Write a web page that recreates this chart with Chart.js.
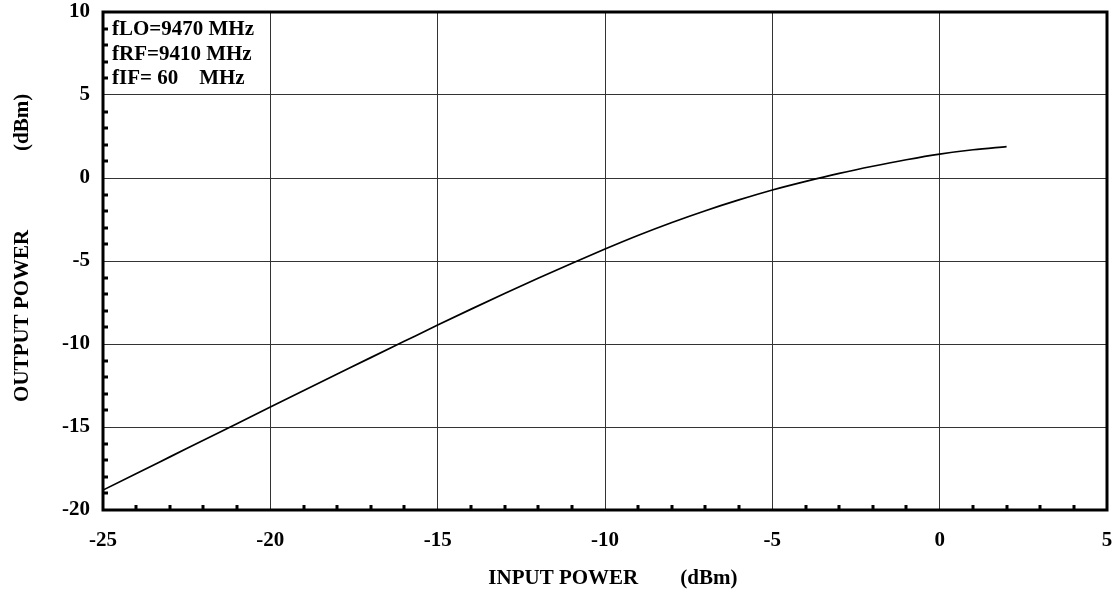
<!DOCTYPE html>
<html>
<head>
<meta charset="utf-8">
<script src="https://cdn.jsdelivr.net/npm/chart.js@4.4.1/dist/chart.umd.min.js"></script>
<style>
  html, body { margin: 0; padding: 0; background: #fff; }
</style>
</head>
<body>
<canvas id="myChart" width="1120" height="596"></canvas>
<script>
// input power (dBm) and measured output power (dBm)
const inputPower = [-25, -24, -23, -22, -21, -20, -19, -18, -17, -16, -15, -14, -13, -12, -11, -10,
                    -9, -8, -7, -6, -5, -4, -3, -2, -1, 0, 1, 2];
const outputPower = [-18.8, -17.8, -16.8, -15.8, -14.8, -13.8, -12.8, -11.81, -10.82, -9.84, -8.86,
                     -7.9, -6.96, -6.04, -5.15, -4.28, -3.45, -2.68, -1.97, -1.32, -0.72,
                     -0.2, 0.28, 0.71, 1.1, 1.44, 1.7, 1.89];
const xTicks = [-25, -20, -15, -10, -5, 0, 5];
const yTicks = [-20, -15, -10, -5, 0, 5, 10];
const notes = ['fLO=9470 MHz', 'fRF=9410 MHz', 'fIF= 60    MHz'];

const FONT = '"Liberation Serif", "Times New Roman", serif';
const minorStep = 1;

// frame, inward minor ticks and the frequency notes
const framePlugin = {
    id: 'frame',
    afterDraw(chart) {
        const { ctx, chartArea: a, scales: { x, y } } = chart;
        ctx.save();
        ctx.strokeStyle = '#000';
        ctx.lineWidth = 3;
        ctx.beginPath();
        for (let v = x.min + minorStep; v < x.max; v += minorStep) {
            if (xTicks.includes(v)) continue;
            const px = Math.round(x.getPixelForValue(v));
            ctx.moveTo(px, a.bottom);
            ctx.lineTo(px, a.bottom - 5);
        }
        for (let v = y.min + minorStep; v < y.max; v += minorStep) {
            if (yTicks.includes(v)) continue;
            const py = Math.round(y.getPixelForValue(v));
            ctx.moveTo(a.left, py);
            ctx.lineTo(a.left + 5, py);
        }
        ctx.stroke();

        ctx.lineWidth = 3;
        ctx.strokeRect(a.left, a.top, a.right - a.left, a.bottom - a.top);

        ctx.fillStyle = '#000';
        ctx.font = 'bold 21px ' + FONT;
        ctx.textBaseline = 'alphabetic';
        ctx.textAlign = 'left';
        notes.forEach((t, i) => ctx.fillText(t, a.left + 9, a.top + 23 + i * 24.5));
        ctx.restore();
    }
};

const tickFont = { family: FONT, size: 21, weight: 'bold' };

const config = {
    type: 'line',
    data: {
        datasets: [{
            data: inputPower.map((v, i) => ({ x: v, y: outputPower[i] })),
            borderColor: '#000',
            borderWidth: 1.7,
            pointRadius: 0,
            fill: false,
            cubicInterpolationMode: 'monotone'
        }]
    },
    options: {
        responsive: false,
        animation: false,
        layout: { padding: { top: 12, right: 13, left: 0, bottom: 0 } },
        plugins: { legend: { display: false }, tooltip: { enabled: false } },
        scales: {
            x: {
                type: 'linear',
                min: -25,
                max: 5,
                afterBuildTicks: (s) => { s.ticks = xTicks.map(v => ({ value: v })); },
                afterFit: (s) => { s.height = 86; s.paddingLeft = 0; s.paddingRight = 0; },
                grid: { color: '#333', lineWidth: 1, drawTicks: false },
                border: { display: false },
                ticks: { font: tickFont, color: '#000', padding: 18, maxRotation: 0 },
                title: {
                    display: true,
                    text: '   INPUT POWER        (dBm)',
                    font: tickFont,
                    color: '#000',
                    padding: { top: 0, bottom: 5 }
                }
            },
            y: {
                type: 'linear',
                min: -20,
                max: 10,
                afterBuildTicks: (s) => { s.ticks = yTicks.map(v => ({ value: v })); },
                afterFit: (s) => { s.width = 103; s.paddingTop = 0; s.paddingBottom = 0; },
                grid: { color: '#333', lineWidth: 1, drawTicks: false },
                border: { display: false },
                ticks: { font: tickFont, color: '#000', padding: 13 },
                title: {
                    display: true,
                    text: '     OUTPUT POWER               (dBm)',
                    font: tickFont,
                    color: '#000',
                    padding: { top: 10, bottom: 0 }
                }
            }
        }
    },
    plugins: [framePlugin]
};

const ctx = document.getElementById('myChart').getContext('2d');
window.myChartInstance = new Chart(ctx, config);
</script>
</body>
</html>
